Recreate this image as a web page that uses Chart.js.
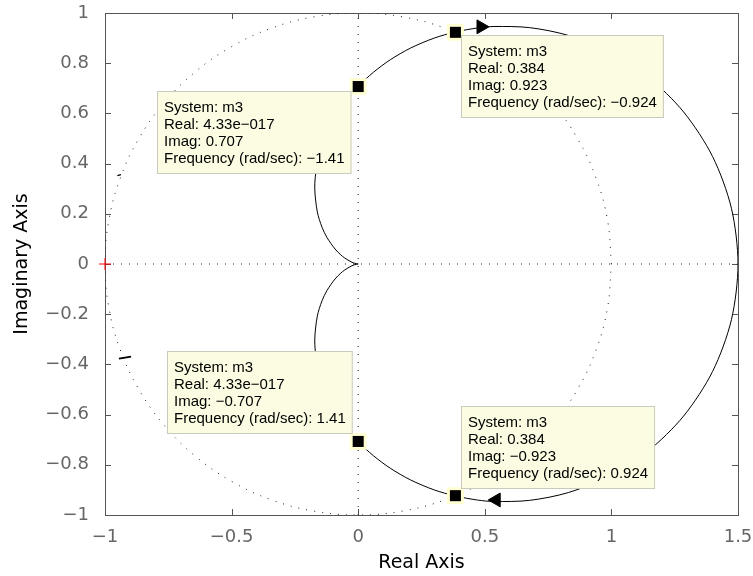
<!DOCTYPE html>
<html>
<head>
<meta charset="utf-8">
<script src="https://cdn.jsdelivr.net/npm/chart.js@4.4.1/dist/chart.umd.min.js"></script>
<style>
  html, body { margin: 0; padding: 0; background: #fff; }
  #wrap { width: 753px; height: 576px; }
</style>
</head>
<body>
<div id="wrap"><canvas id="nyq" width="753" height="576"></canvas></div>
<script>
// Nyquist curve of m3 (omega from -inf up to +inf)
const nyqRe = [0, -0.0129, -0.028, -0.0532, -0.0689, -0.0915, -0.1235, -0.1428, -0.1615, -0.1716, -0.165, -0.15, -0.1212, -0.0996, -0.0719, 0, 0.0608, 0.1266, 0.2058, 0.3, 0.3827, 0.4711, 0.5362, 0.6771, 0.8297, 0.9882, 1.1439, 1.2853, 1.3995, 1.474, 1.5,
  1.474, 1.3995, 1.2853, 1.1439, 0.9882, 0.8297, 0.6771, 0.5362, 0.4711, 0.3827, 0.3, 0.2058, 0.1266, 0.0608, 0, -0.0719, -0.0996, -0.1212, -0.15, -0.165, -0.1716, -0.1615, -0.1428, -0.1235, -0.0915, -0.0689, -0.0532, -0.028, -0.0129, 0];
const nyqIm = [0, 0.0026, 0.0086, 0.0238, 0.0365, 0.0597, 0.1059, 0.1463, 0.2077, 0.3028, 0.3835, 0.45, 0.5277, 0.5709, 0.6166, 0.7071, 0.7644, 0.8136, 0.8598, 0.9, 0.9239, 0.9404, 0.9462, 0.9417, 0.9107, 0.8471, 0.746, 0.6056, 0.4284, 0.222, 0,
  -0.222, -0.4284, -0.6056, -0.746, -0.8471, -0.9107, -0.9417, -0.9462, -0.9404, -0.9239, -0.9, -0.8598, -0.8136, -0.7644, -0.7071, -0.6166, -0.5709, -0.5277, -0.45, -0.3835, -0.3028, -0.2077, -0.1463, -0.1059, -0.0597, -0.0365, -0.0238, -0.0086, -0.0026, 0];

// dotted unit circle
const circleX = [1, 0.9848, 0.9397, 0.866, 0.766, 0.6428, 0.5, 0.342, 0.1736, 0, -0.1736, -0.342, -0.5, -0.6428, -0.766, -0.866, -0.9397, -0.9848, -1,
  -0.9848, -0.9397, -0.866, -0.766, -0.6428, -0.5, -0.342, -0.1736, 0, 0.1736, 0.342, 0.5, 0.6428, 0.766, 0.866, 0.9397, 0.9848, 1];
const circleY = [0, 0.1736, 0.342, 0.5, 0.6428, 0.766, 0.866, 0.9397, 0.9848, 1, 0.9848, 0.9397, 0.866, 0.766, 0.6428, 0.5, 0.342, 0.1736, 0,
  -0.1736, -0.342, -0.5, -0.6428, -0.766, -0.866, -0.9397, -0.9848, -1, -0.9848, -0.9397, -0.866, -0.766, -0.6428, -0.5, -0.342, -0.1736, 0];

// direction arrows on the curve
const arrowX = [0.485, 0.545];
const arrowY = [0.945, -0.94];
const arrowRot = [90, -90];

// data tips
const tipX = [0, 0.384, 0, 0.384];
const tipY = [0.707, 0.923, -0.707, -0.923];
const tipReal = ['4.33e\u2212017', '0.384', '4.33e\u2212017', '0.384'];
const tipImag = ['0.707', '0.923', '\u22120.707', '\u22120.923'];
const tipFreq = ['\u22121.41', '\u22120.924', '1.41', '0.924'];

// small stray marks near the left edge
const markAX = [-0.951, -0.937];
const markAY = [0.352, 0.356];
const markBX = [-0.945, -0.897];
const markBY = [-0.377, -0.369];

// critical point
const critX = [-1];
const critY = [0];

const xTicks = { min: -1, max: 1.5, step: 0.5 };
const yTicks = { min: -1, max: 1, step: 0.2 };

function pts(xs, ys) {
  return xs.map((x, i) => ({ x: x, y: ys[i] }));
}

function fmtTick(v) {
  const r = Math.round(v * 10) / 10;
  return String(r).replace('-', '\u2212');
}

const AXIS_COLOR = '#555';

// frame and inward tick marks, MATLAB style
const framePlugin = {
  id: 'frame',
  beforeDatasetsDraw(chart) {
    const { ctx, chartArea: a, scales } = chart;
    ctx.save();
    ctx.strokeStyle = AXIS_COLOR;
    ctx.lineWidth = 1;
    ctx.beginPath();
    scales.x.ticks.forEach(t => {
      const px = Math.round(scales.x.getPixelForValue(t.value)) + 0.5;
      ctx.moveTo(px, a.top); ctx.lineTo(px, a.top + 6);
      ctx.moveTo(px, a.bottom); ctx.lineTo(px, a.bottom - 6);
    });
    scales.y.ticks.forEach(t => {
      const py = Math.round(scales.y.getPixelForValue(t.value)) + 0.5;
      ctx.moveTo(a.left, py); ctx.lineTo(a.left + 6, py);
      ctx.moveTo(a.right, py); ctx.lineTo(a.right - 6, py);
    });
    ctx.stroke();
    ctx.strokeRect(Math.round(a.left) + 0.5, Math.round(a.top) + 0.5,
      Math.round(a.right - a.left), Math.round(a.bottom - a.top));
    ctx.restore();
  }
};

// yellow data tip boxes, drawn over the curve but under the markers
const tipPlugin = {
  id: 'tips',
  afterDatasetDraw(chart, args) {
    if (args.index !== 2) return;
    const { ctx, scales } = chart;
    const place = [
      { dx: -7, dy: 4, right: true, up: false },
      { dx: 6, dy: 3, right: false, up: false },
      { dx: -5, dy: -7, right: true, up: true },
      { dx: 6, dy: -7, right: false, up: true }
    ];
    ctx.save();
    ctx.font = '15px "Liberation Sans", Arial, sans-serif';
    tipX.forEach((x, i) => {
      const mx = scales.x.getPixelForValue(x);
      const my = scales.y.getPixelForValue(tipY[i]);
      const lines = ['System: m3', 'Real: ' + tipReal[i], 'Imag: ' + tipImag[i],
        'Frequency (rad/sec): ' + tipFreq[i]];
      const w = Math.max(...lines.map(s => ctx.measureText(s).width)) + 14;
      const h = 83;
      const p = place[i];
      const left = Math.round(p.right ? mx + p.dx - w : mx + p.dx);
      const top = Math.round(p.up ? my + p.dy - h : my + p.dy);
      ctx.fillStyle = '#fcfce2';
      ctx.fillRect(left, top, w, h);
      ctx.strokeStyle = '#c9c9bd';
      ctx.lineWidth = 1;
      ctx.strokeRect(left + 0.5, top + 0.5, w - 1, h - 1);
      ctx.fillStyle = '#000';
      ctx.textBaseline = 'middle';
      lines.forEach((s, k) => ctx.fillText(s, left + 7, top + 16.5 + k * 17));
    });
    ctx.restore();
  }
};

// keep the plot box where the layout padding puts it
function noEdgePadding(s) {
  s.paddingLeft = 0; s.paddingRight = 0; s.paddingTop = 0; s.paddingBottom = 0;
}

const dotted = { borderColor: '#222', borderWidth: 1, borderDash: [1, 7], pointRadius: 0, showLine: true };

new Chart(document.getElementById('nyq'), {
  type: 'scatter',
  data: {
    datasets: [
      { label: 'critical', data: pts(critX, critY), pointStyle: 'cross', pointRadius: 6,
        borderColor: '#ff0000', borderWidth: 1, clip: false },
      { label: 'arrows', data: pts(arrowX, arrowY), pointStyle: 'triangle', pointRadius: 8,
        rotation: arrowRot, backgroundColor: '#000', borderColor: '#000', borderWidth: 1 },
      { label: 'tips', data: pts(tipX, tipY), pointStyle: 'rect', pointRadius: 7.8,
        backgroundColor: '#000', borderWidth: 0 },
      { label: 'tipHalo', data: pts(tipX, tipY), pointStyle: 'rect', pointRadius: 12,
        backgroundColor: '#ffffd2', borderWidth: 0 },
      { label: 'm3', data: pts(nyqRe, nyqIm), showLine: true, borderColor: '#000',
        borderWidth: 1, pointRadius: 0, tension: 0.3 },
      { label: 'markA', data: pts(markAX, markAY), showLine: true, borderColor: '#000',
        borderWidth: 1.5, pointRadius: 0 },
      { label: 'markB', data: pts(markBX, markBY), showLine: true, borderColor: '#000',
        borderWidth: 1.8, pointRadius: 0 },
      Object.assign({ label: 'circle', data: pts(circleX, circleY), tension: 0.4 }, dotted),
      Object.assign({ label: 'reAxis', data: pts([xTicks.min, xTicks.max], [0, 0]) }, dotted),
      Object.assign({ label: 'imAxis', data: pts([0, 0], [yTicks.min, yTicks.max]) }, dotted)
    ]
  },
  options: {
    responsive: false,
    animation: false,
    layout: { padding: { left: 0, right: 15, top: 13, bottom: 0 } },
    plugins: { legend: { display: false }, tooltip: { enabled: false } },
    scales: {
      x: {
        type: 'linear', min: xTicks.min, max: xTicks.max,
        afterFit: s => { s.height = 61; noEdgePadding(s); },
        grid: { display: false },
        border: { display: false },
        ticks: { stepSize: xTicks.step, padding: 4, color: '#666', callback: fmtTick,
          font: { family: '"DejaVu Sans", sans-serif', size: 18 } },
        title: { display: true, text: 'Real Axis', color: '#000', padding: { top: 0, bottom: 2 },
          font: { family: '"DejaVu Sans", sans-serif', size: 19 } }
      },
      y: {
        type: 'linear', min: yTicks.min, max: yTicks.max,
        afterFit: s => { s.width = 105; noEdgePadding(s); },
        grid: { display: false },
        border: { display: false },
        ticks: { stepSize: yTicks.step, padding: 8, color: '#666', callback: fmtTick,
          font: { family: '"DejaVu Sans", sans-serif', size: 18 } },
        title: { display: true, text: 'Imaginary Axis', color: '#000', padding: { top: 11, bottom: 0 },
          font: { family: '"DejaVu Sans", sans-serif', size: 19 } }
      }
    }
  },
  plugins: [framePlugin, tipPlugin]
});
</script>
</body>
</html>
